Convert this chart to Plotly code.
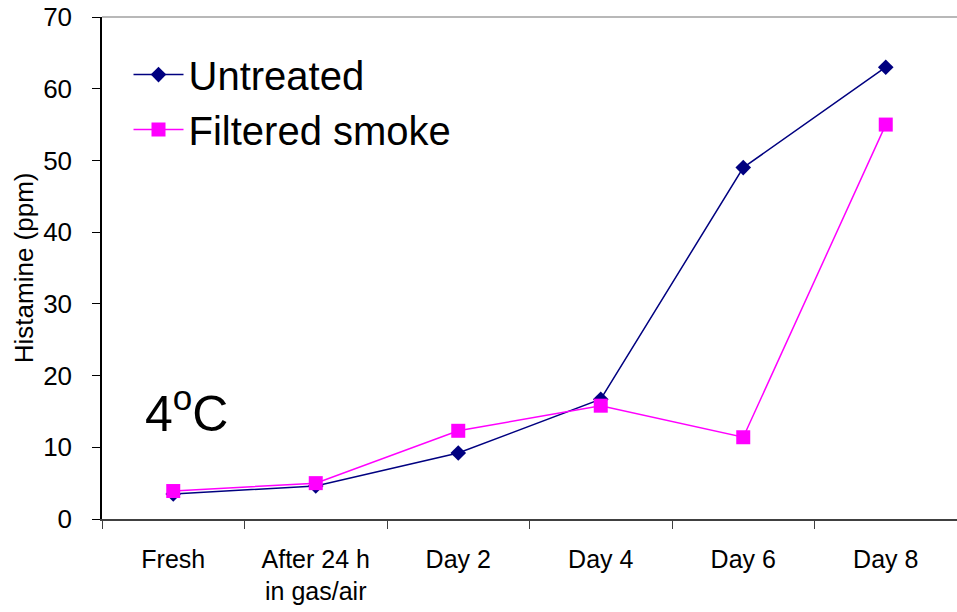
import plotly.graph_objects as go

# Histamine content (ppm) of fish stored at 4 oC
categories = ["Fresh", "After 24 h<br>in gas/air", "Day 2", "Day 4", "Day 6", "Day 8"]
untreated = [3.5, 4.6, 9.2, 16.7, 49.0, 63.0]
filtered_smoke = [3.9, 5.0, 12.3, 15.8, 11.4, 55.0]

FONT = "Liberation Sans, Arial, sans-serif"

fig = go.Figure()

fig.add_trace(go.Scatter(x=categories, y=untreated, name="Untreated", mode="lines+markers",
                         line=dict(color="#000080", width=1.5),
                         marker=dict(symbol="diamond", size=12, color="#000080"),
                         legendgroup="a"))

fig.add_trace(go.Scatter(x=categories, y=filtered_smoke, name="Filtered smoke", mode="lines+markers",
                         line=dict(color="#FF00FF", width=1.5),
                         marker=dict(symbol="square", size=14, color="#FF00FF"),
                         legendgroup="b"))

# temperature label inside the plot
fig.add_annotation(text="4<sup>o</sup>C", x=0.099, y=0.217, xref="paper", yref="paper",
                   xanchor="center", yanchor="middle", showarrow=False,
                   font=dict(family=FONT, size=50, color="black"))

# y axis title placed by hand
fig.add_annotation(text="Histamine (ppm)", x=-0.091, y=0.5, xref="paper", yref="paper",
                   textangle=-90, xanchor="center", yanchor="middle", showarrow=False,
                   font=dict(family=FONT, size=26, color="black"))

# grey top border of the plot area
fig.add_shape(type="line", xref="paper", yref="paper", x0=0, x1=1, y0=1, y1=1,
              line=dict(color="#A0A0A0", width=1.5))

fig.update_xaxes(type="category", range=[-0.5, 5.5], showline=True, linecolor="#404040", linewidth=1.5,
                 ticks="outside", tickson="boundaries", ticklen=8, tickcolor="#404040",
                 ticklabelstandoff=17, automargin=False, ticklabeloverflow="allow",
                 showgrid=False, zeroline=False, tickfont=dict(family=FONT, size=25, color="black"))

fig.update_yaxes(range=[0, 70], dtick=10, showline=True, linecolor="black", linewidth=1.5,
                 ticks="outside", ticklen=8, tickcolor="black", ticklabelstandoff=15,
                 automargin=False, ticklabeloverflow="allow",
                 showgrid=False, zeroline=False, tickfont=dict(family=FONT, size=26, color="black"))

fig.update_layout(width=957, height=612, margin=dict(l=102, r=0, t=17, b=93),
                  plot_bgcolor="white", paper_bgcolor="white",
                  font=dict(family=FONT, color="black"),
                  legend=dict(x=0.031, y=0.95, xanchor="left", yanchor="top",
                              bgcolor="rgba(0,0,0,0)", font=dict(family=FONT, size=40),
                              tracegroupgap=0, traceorder="grouped", itemwidth=50))

# drop the default 8px page margin so the figure fills the window
fig.write_html("out.html", config={"displayModeBar": False},
               post_script="document.body.style.margin = '0';")
